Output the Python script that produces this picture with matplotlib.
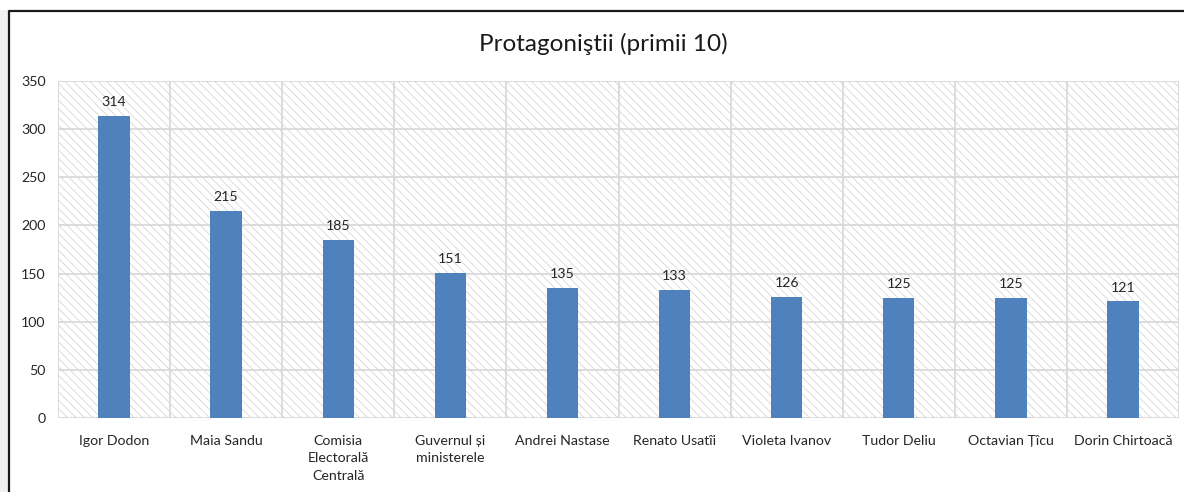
import matplotlib
matplotlib.use("Agg")
import matplotlib.pyplot as plt
from matplotlib.patches import Rectangle
from matplotlib.lines import Line2D

categories = [
    "Igor Dodon", "Maia Sandu", "Comisia\nElectorală\nCentrală",
    "Guvernul și\nministerele", "Andrei Nastase", "Renato Usatîi",
    "Violeta Ivanov", "Tudor Deliu", "Octavian Țîcu", "Dorin Chirtoacă",
]
values = [314, 215, 185, 151, 135, 133, 126, 125, 125, 121]
yticks = [0, 50, 100, 150, 200, 250, 300, 350]
title = "Protagoniştii (primii 10)"

plt.rcParams["font.family"] = ["Lato", "DejaVu Sans"]
plt.rcParams["hatch.linewidth"] = 0.6

fig = plt.figure(figsize=(11.84, 4.92), dpi=100)
fig.patch.set_facecolor("white")

# grey margin on the left and the frame around the chart
fig.add_artist(Rectangle((0, 0), 8 / 1184, 1 - 10 / 492, transform=fig.transFigure,
                         facecolor="#f0f0f0", edgecolor="none", zorder=0))
fig.add_artist(Line2D([8.5 / 1184, 8.5 / 1184, 1.0], [0, 1 - 10.5 / 492, 1 - 10.5 / 492],
                      transform=fig.transFigure, color="#1a1a1a", linewidth=1.6))

ax = fig.add_axes([58 / 1184, 1 - 418 / 492, (1179 - 58) / 1184, (418 - 81) / 492])
ax.set_facecolor("white")

# hatched plot-area background
bg = Rectangle((0, 0), 1, 1, transform=ax.transAxes, facecolor="white",
               edgecolor="#d6d6d6", linewidth=0, hatch="\\\\\\\\", zorder=0)
ax.add_patch(bg)

x = list(range(len(categories)))
ax.bar(x, values, width=0.28, color="#4f81bd", zorder=3)

for xi, v in zip(x, values):
    ax.text(xi, v + 8, str(v), ha="center", va="bottom", fontsize=10.2, color="#262626", zorder=4)

ax.set_xlim(-0.5, len(categories) - 0.5)
ax.set_ylim(0, 350)
ax.set_yticks(yticks)
ax.set_yticklabels([str(t) for t in yticks], fontsize=10.2, color="#262626")
ax.set_xticks(x)
ax.set_xticklabels(categories, fontsize=10.2, color="#262626", linespacing=1.55, va="top")
ax.tick_params(axis="both", length=0)
ax.tick_params(axis="x", pad=12)
ax.tick_params(axis="y", pad=9)

# gridlines: horizontal at ticks, vertical between categories
for t in yticks:
    ax.axhline(t, color="#d9d9d9", linewidth=1.3, zorder=1)
for b in [i - 0.5 for i in range(len(categories) + 1)]:
    ax.axvline(b, color="#d9d9d9", linewidth=1.3, zorder=1)

for s in ax.spines.values():
    s.set_visible(False)

fig.text(603 / 1184, 1 - 44 / 492, title, ha="center", va="center", fontsize=17.5, color="#1a1a1a")

fig.savefig("out.png", dpi=100)
